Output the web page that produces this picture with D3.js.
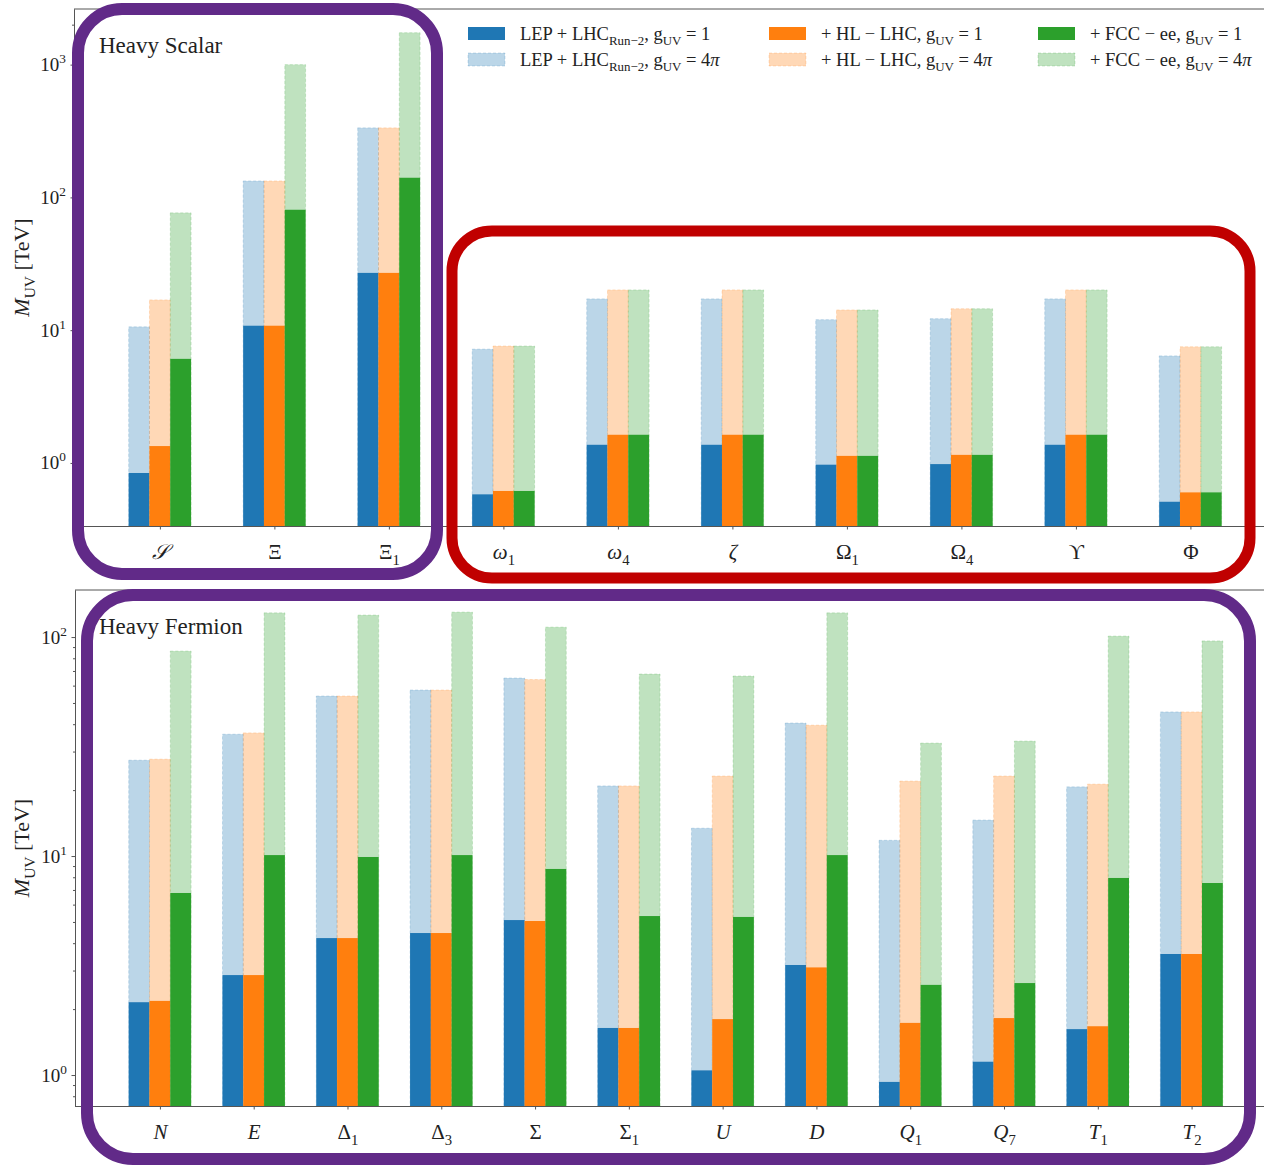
<!DOCTYPE html>
<html>
<head>
<meta charset="utf-8">
<script src="https://cdn.jsdelivr.net/npm/d3@7"></script>
<style>
  body { margin: 0; background: #fff; }
  svg { display: block; }
  svg text { white-space: pre; font-family: "Liberation Serif", "DejaVu Serif", serif; fill: #222; }
</style>
</head>
<body>
<svg id="chart" width="1264" height="1165" font-family="Liberation Serif, DejaVu Serif, serif"></svg>
<script>
// ---- Heavy scalars and multi-field states (upper panel), M_UV in TeV ----
const topCategories = ["*𝒮*", "Ξ", "Ξ_1", "*ω*_1", "*ω*_4", "*ζ*", "Ω_1", "Ω_4", "ϒ", "Φ"];
const topLep1   = [0.84, 10.8, 27, 0.58, 1.37, 1.37, 0.97, 0.98, 1.37, 0.51];
const topLep4pi = [10.6, 133, 334, 7.2, 17.2, 17.2, 12.0, 12.2, 17.2, 6.4];
const topHl1    = [1.34, 10.8, 27, 0.615, 1.63, 1.63, 1.13, 1.15, 1.63, 0.60];
const topHl4pi  = [16.9, 133, 334, 7.6, 20.1, 20.1, 14.2, 14.5, 20.1, 7.5];
const topFcc1   = [6.08, 80.7, 140.6, 0.615, 1.63, 1.63, 1.13, 1.15, 1.63, 0.60];
const topFcc4pi = [76.5, 1000, 1740, 7.6, 20.1, 20.1, 14.2, 14.5, 20.1, 7.5];

// ---- Heavy fermions (lower panel), M_UV in TeV ----
const botCategories = ["*N*", "*E*", "Δ_1", "Δ_3", "Σ", "Σ_1", "*U*", "*D*", "*Q*_1", "*Q*_7", "*T*_1", "*T*_2"];
const botLep1   = [2.15, 2.86, 4.22, 4.45, 5.1, 1.64, 1.05, 3.18, 0.93, 1.15, 1.62, 3.57];
const botLep4pi = [27.4, 36, 53.8, 57.3, 65, 20.9, 13.4, 40.5, 11.8, 14.6, 20.7, 45.5];
const botHl1    = [2.18, 2.86, 4.22, 4.45, 5.05, 1.64, 1.80, 3.1, 1.73, 1.82, 1.67, 3.57];
const botHl4pi  = [27.7, 36.5, 53.8, 57.3, 64, 20.9, 23.2, 39.6, 22, 23.2, 21.3, 45.5];
const botFcc1   = [6.78, 10.1, 9.9, 10.1, 8.73, 5.32, 5.27, 10.1, 2.58, 2.63, 7.94, 7.53];
const botFcc4pi = [86.3, 129, 126, 130, 111, 67.8, 66.4, 129, 32.8, 33.5, 101, 96];

const topMajorTicks = [1, 10, 100, 1000];
const botMajorTicks = [1, 10, 100];

const legendLabels = [
  "LEP + LHC_{Run−2}, g_{UV} = 1",
  "LEP + LHC_{Run−2}, g_{UV} = 4*π*",
  "+ HL − LHC, g_{UV} = 1",
  "+ HL − LHC, g_{UV} = 4*π*",
  "+ FCC − ee, g_{UV} = 1",
  "+ FCC − ee, g_{UV} = 4*π*"
];
const yAxisLabel = "*M*_{UV} [TeV]";

const colors = { lep: "#1f77b4", hl: "#ff7f0e", fcc: "#2ca02c" };
const PURPLE = "#612a88", RED = "#c00000";
const SERIF = "Liberation Serif, DejaVu Serif, serif";
const barW = 20.8;

const svg = d3.select("#chart");

// Renders a small markup: *italic*, _{sub} / _x, ^{sup}
function mathText(sel, str, size) {
  sel.text(null).attr("font-size", size).attr("font-family", SERIF);
  const re = /\*([^*]+)\*|_\{([^}]+)\}|\^\{([^}]+)\}|_(.)|([^*_^]+)/g;
  let shift = 0, m;
  while ((m = re.exec(str))) {
    let txt, italic = false, level = 0;
    if (m[1]) { txt = m[1]; italic = true; }
    else if (m[2] || m[4]) { txt = m[2] || m[4]; level = 1; }
    else if (m[3]) { txt = m[3]; level = -1; }
    else txt = m[5];
    const target = level === 1 ? 0.28 * size : level === -1 ? -0.42 * size : 0;
    const t = sel.append("tspan").text(txt)
      .attr("font-size", level ? size * 0.7 : size)
      .attr("font-style", italic ? "italic" : "normal");
    if (target !== shift) { t.attr("dy", target - shift); shift = target; }
  }
}

function drawPanel(cfg) {
  const { x, y, cats, series, ticks, xLeft, xRight } = cfg;
  const [yBottom, yTop] = y.range();
  const g = svg.append("g");

  series.forEach((s, k) => {
    const off = (k - 1.5) * barW;
    // g_UV = 4π reach (light, dashed edge)
    g.append("g").selectAll("rect").data(s.wide).join("rect")
      .attr("x", (d, i) => x(i) + off).attr("width", barW)
      .attr("y", d => y(d)).attr("height", d => yBottom - y(d))
      .attr("fill", s.color).attr("fill-opacity", 0.3)
      .attr("stroke", s.color).attr("stroke-opacity", 0.22)
      .attr("stroke-width", 0.9).attr("stroke-dasharray", "3,2");
    // g_UV = 1 reach (solid)
    g.append("g").selectAll("rect").data(s.unit).join("rect")
      .attr("x", (d, i) => x(i) + off).attr("width", barW)
      .attr("y", d => y(d)).attr("height", d => yBottom - y(d))
      .attr("fill", s.color);
  });

  // frame
  g.append("line").attr("x1", xLeft).attr("x2", xRight).attr("y1", yTop).attr("y2", yTop)
    .attr("stroke", "#555").attr("stroke-width", 1);

  // y axis: major and minor ticks
  const minor = [];
  const [d0, d1] = y.domain();
  for (let e = Math.floor(Math.log10(d0)); e <= Math.ceil(Math.log10(d1)); e++)
    for (let k = 2; k <= 9; k++) { const v = k * Math.pow(10, e); if (v >= d0 && v <= d1) minor.push(v); }
  g.append("g").attr("transform", `translate(${xLeft},0)`)
    .call(d3.axisLeft(y).tickValues(minor).tickSize(2).tickSizeOuter(0).tickFormat(""))
    .call(a => a.selectAll("line,path").attr("stroke", "#555"));
  const ya = g.append("g").attr("transform", `translate(${xLeft},0)`)
    .call(d3.axisLeft(y).tickValues(ticks).tickSize(3.5).tickSizeOuter(0)
      .tickFormat(d => "10^{" + Math.round(Math.log10(d)) + "}"));
  ya.selectAll("line,path").attr("stroke", "#555");
  ya.selectAll("text").each(function (d) {
    const t = d3.select(this).attr("dy", null).attr("y", 6).attr("x", -8);
    mathText(t, "10^{" + Math.round(Math.log10(d)) + "}", 19);
  });

  // x axis
  const xa = g.append("g").attr("transform", `translate(0,${yBottom})`)
    .call(d3.axisBottom(x).tickValues(d3.range(cats.length)).tickSize(3.5).tickSizeOuter(0)
      .tickFormat((d, i) => cats[i]));
  xa.select("path").attr("d", `M${xLeft},0.5H${xRight}`);
  xa.selectAll("line,path").attr("stroke", "#555");
  xa.selectAll("text").each(function (d, i) {
    const t = d3.select(this).attr("dy", null).attr("y", 33);
    mathText(t, cats[i], 21);
  });

  // y label
  const yl = g.append("text")
    .attr("transform", `translate(29,${(yTop + yBottom) / 2}) rotate(-90)`)
    .attr("text-anchor", "middle");
  mathText(yl, yAxisLabel, 22);
  return g;
}

// ---- upper panel ----
const xTop = d3.scaleLinear().domain([-0.75, 9.75]).range([74, 1276.3]);
const yTopScale = d3.scaleLog().domain([0.335, 2624]).range([526, 9]);
drawPanel({
  x: xTop, y: yTopScale, cats: topCategories, ticks: topMajorTicks, xLeft: 74, xRight: 1276,
  series: [
    { color: colors.lep, unit: topLep1, wide: topLep4pi },
    { color: colors.hl,  unit: topHl1,  wide: topHl4pi },
    { color: colors.fcc, unit: topFcc1, wide: topFcc4pi }
  ]
});

// ---- lower panel ----
const xBot = d3.scaleLinear().domain([-0.9, 11.9]).range([75.5, 1276]);
const yBotScale = d3.scaleLog().domain([0.722, 164]).range([1106, 590]);
drawPanel({
  x: xBot, y: yBotScale, cats: botCategories, ticks: botMajorTicks, xLeft: 75, xRight: 1276,
  series: [
    { color: colors.lep, unit: botLep1, wide: botLep4pi },
    { color: colors.hl,  unit: botHl1,  wide: botHl4pi },
    { color: colors.fcc, unit: botFcc1, wide: botFcc4pi }
  ]
});

// ---- legend (3 columns x 2 rows) ----
const legendColors = [colors.lep, colors.lep, colors.hl, colors.hl, colors.fcc, colors.fcc];
const legX = [468, 769, 1038], legY = [27, 53];
const leg = svg.append("g");
legendLabels.forEach((lab, i) => {
  const col = Math.floor(i / 2), row = i % 2;
  const light = row === 1;
  leg.append("rect")
    .attr("x", legX[col]).attr("y", legY[row]).attr("width", 37).attr("height", 13)
    .attr("fill", legendColors[i]).attr("fill-opacity", light ? 0.3 : 1)
    .attr("stroke", legendColors[i]).attr("stroke-opacity", light ? 0.22 : 0)
    .attr("stroke-dasharray", "3,2").attr("stroke-width", 0.9);
  const t = leg.append("text").attr("x", legX[col] + 52).attr("y", legY[row] + 13);
  mathText(t, lab, 18.5);
});

// ---- panel titles ----
svg.append("text").attr("x", 99).attr("y", 53).attr("font-size", 23)
  .attr("font-family", SERIF).text("Heavy Scalar");
svg.append("text").attr("x", 99).attr("y", 634).attr("font-size", 23)
  .attr("font-family", SERIF).text("Heavy Fermion");

// ---- group outlines ----
const outlines = [
  { x: 78, y: 9, w: 359, h: 565, r: 44, c: PURPLE, sw: 12 },
  { x: 452, y: 231, w: 798, h: 347, r: 40, c: RED, sw: 11 },
  { x: 87, y: 595, w: 1163, h: 564, r: 46, c: PURPLE, sw: 12 }
];
svg.append("g").selectAll("rect").data(outlines).join("rect")
  .attr("x", d => d.x).attr("y", d => d.y).attr("width", d => d.w).attr("height", d => d.h)
  .attr("rx", d => d.r).attr("ry", d => d.r)
  .attr("fill", "none").attr("stroke", d => d.c).attr("stroke-width", d => d.sw);
</script>
</body>
</html>
